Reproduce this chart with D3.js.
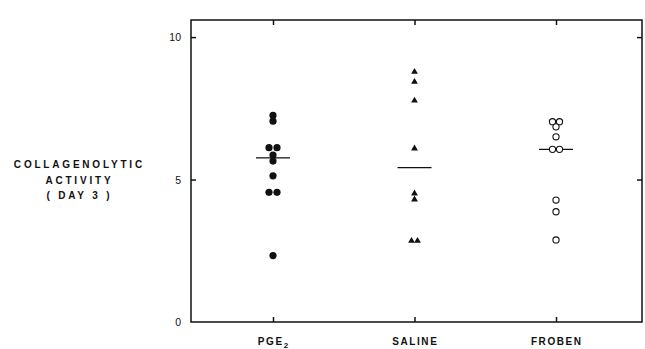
<!DOCTYPE html>
<html>
<head>
<meta charset="utf-8">
<script src="https://cdn.jsdelivr.net/npm/d3@7"></script>
<style>
  html, body { margin: 0; padding: 0; background: #fff; }
  svg { display: block; }
  text { font-family: "Liberation Sans", Arial, sans-serif; font-weight: bold; fill: #111; }
</style>
</head>
<body>
<svg id="chart" width="645" height="349"></svg>
<script>
// ---- data ----
const categories = ["PGE2", "SALINE", "FROBEN"];
const pgeValues = [7.25, 7.05, 6.12, 6.12, 5.86, 5.65, 5.13, 4.55, 4.55, 2.33];
const salineValues = [8.78, 8.43, 7.77, 6.09, 4.51, 4.30, 2.85, 2.85];
const frobenValues = [7.03, 7.03, 6.85, 6.50, 6.06, 6.06, 4.28, 3.87, 2.88];
const medianLines = [5.76, 5.42, 6.06];
const yTicks = [0, 5, 10];
const yTitle = ["COLLAGENOLYTIC", "ACTIVITY", "( DAY 3 )"];

const seriesValues = [pgeValues, salineValues, frobenValues];
const markerType = ["dot", "triangle", "open"];

// ---- layout ----
const svg = d3.select("#chart");
const mLeft = 191, mRight = 642, mTop = 20, mBottom = 322;

const y = d3.scaleLinear().domain([0, 10.6]).range([mBottom, mTop]);
const x = d3.scalePoint().domain(categories).range([273, 556]);

const ink = "#111";

// median lines first (markers drawn over them)
medianLines.forEach((m, i) => {
  svg.append("line")
    .attr("x1", x(categories[i]) - 17).attr("x2", x(categories[i]) + 17)
    .attr("y1", y(m)).attr("y2", y(m))
    .attr("stroke", ink).attr("stroke-width", 1.3);
});

// frame
svg.append("rect")
  .attr("x", mLeft).attr("y", mTop)
  .attr("width", mRight - mLeft).attr("height", mBottom - mTop)
  .attr("fill", "none").attr("stroke", ink).attr("stroke-width", 1.5);

// y axis ticks (inward) left & right
const yAxisL = d3.axisRight(y).tickValues(yTicks.filter(d => d > 0)).tickSize(5).tickFormat("");
const gL = svg.append("g").attr("transform", `translate(${mLeft},0)`).call(yAxisL);
gL.select(".domain").remove();
gL.selectAll("line").attr("stroke", ink).attr("stroke-width", 1.5);

const yAxisR = d3.axisLeft(y).tickValues(yTicks.filter(d => d > 0)).tickSize(5).tickFormat("");
const gR = svg.append("g").attr("transform", `translate(${mRight},0)`).call(yAxisR);
gR.select(".domain").remove();
gR.selectAll("line").attr("stroke", ink).attr("stroke-width", 1.5);

// y tick labels
svg.selectAll(".ylab").data(yTicks).enter().append("text")
  .attr("class", "ylab")
  .attr("x", 181).attr("y", d => y(d) + 4)
  .attr("text-anchor", "end")
  .attr("font-size", 10.5)
  .style("font-weight", "normal")
  .text(d => d);

// x ticks (inward) bottom and top
const xAxisB = d3.axisTop(x).tickSize(5).tickFormat("");
const gB = svg.append("g").attr("transform", `translate(0,${mBottom})`).call(xAxisB);
gB.select(".domain").remove();
gB.selectAll("line").attr("stroke", ink).attr("stroke-width", 1.5);

const xAxisT = d3.axisBottom(x).tickSize(5).tickFormat("");
const gT = svg.append("g").attr("transform", `translate(0,${mTop})`).call(xAxisT);
gT.select(".domain").remove();
gT.selectAll("line").attr("stroke", ink).attr("stroke-width", 1.5);

// category labels
categories.forEach(c => {
  const t = svg.append("text")
    .attr("x", x(c) + 0.8).attr("y", 345)
    .attr("text-anchor", "middle")
    .attr("font-size", 10)
    .attr("letter-spacing", 1.6);
  if (c === "PGE2") {
    t.append("tspan").text("PGE");
    t.append("tspan").attr("dy", 3).attr("font-size", 8).text("2");
  } else {
    t.text(c);
  }
});

// y title
svg.selectAll(".ytitle").data(yTitle).enter().append("text")
  .attr("class", "ytitle")
  .attr("x", 79.4).attr("y", (d, i) => 168 + i * 15.5)
  .attr("text-anchor", "middle")
  .attr("font-size", 10)
  .attr("letter-spacing", 2.8)
  .text(d => d);

// points with side-by-side dodge for equal values
const spacing = [8, 6, 7];
seriesValues.forEach((vals, si) => {
  const cx = x(categories[si]);
  const counts = d3.rollup(vals, v => v.length, d => d);
  const seen = new Map();
  const pts = vals.map(v => {
    const n = counts.get(v);
    const k = seen.get(v) || 0;
    seen.set(v, k + 1);
    return { v, dx: (k - (n - 1) / 2) * spacing[si] };
  });
  const g = svg.append("g");
  if (markerType[si] === "dot") {
    g.selectAll("circle").data(pts).enter().append("circle")
      .attr("cx", d => cx + d.dx).attr("cy", d => y(d.v))
      .attr("r", 3.6).attr("fill", ink);
  } else if (markerType[si] === "open") {
    g.selectAll("circle").data(pts).enter().append("circle")
      .attr("cx", d => cx + d.dx).attr("cy", d => y(d.v))
      .attr("r", 3.1).attr("fill", "#fff").attr("stroke", ink).attr("stroke-width", 1.1);
  } else {
    const sym = d3.symbol().type(d3.symbolTriangle).size(20);
    g.selectAll("path").data(pts).enter().append("path")
      .attr("d", sym)
      .attr("transform", d => `translate(${cx + d.dx},${y(d.v)})`)
      .attr("fill", ink);
  }
});
</script>
</body>
</html>
